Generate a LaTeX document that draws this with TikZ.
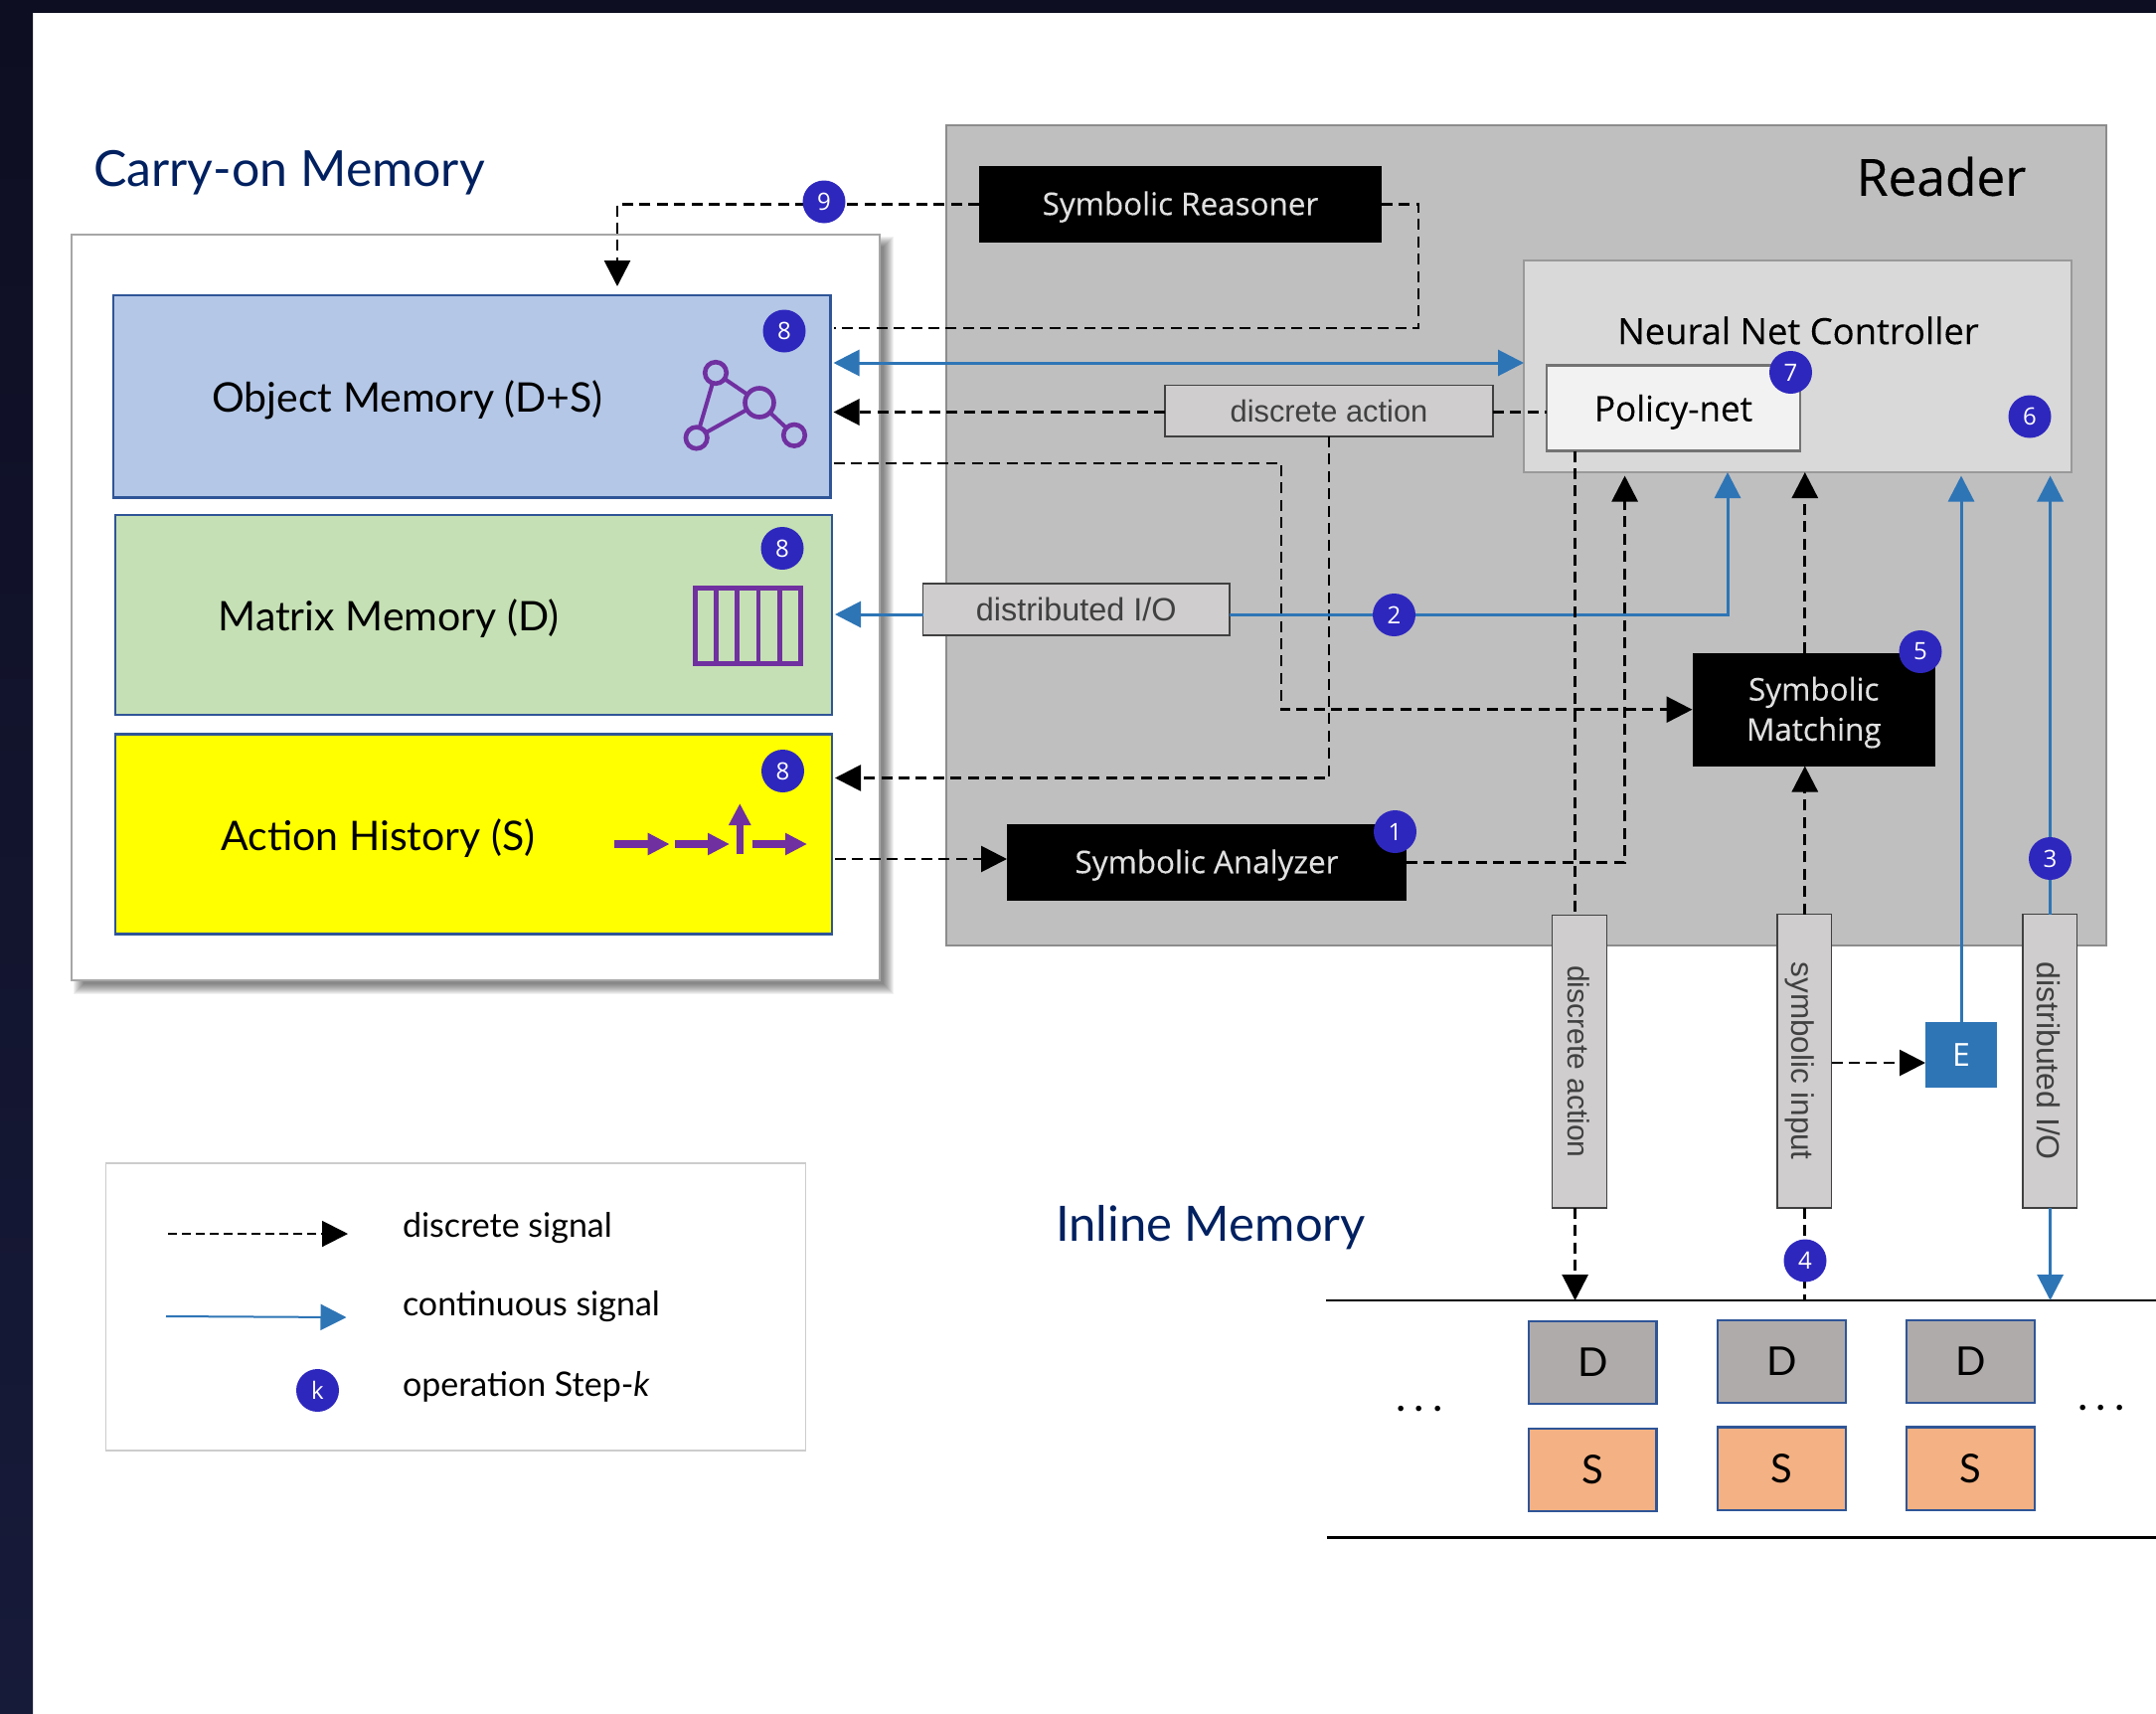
\documentclass[tikz,border=0pt]{standalone}
\usepackage{fontspec}
\usepackage{graphicx}
\usetikzlibrary{arrows.meta,calc}
\setmainfont{Lato}
\newfontfamily\opn{Open Sans}
\newfontfamily\opnm[FakeBold=0.25]{Open Sans}
\newfontfamily\lib{Liberation Sans}
\newcommand\fs[1]{\fontsize{#1}{#1}\selectfont}
\newcommand\dn[1]{\raisebox{-5.5pt}[0pt][0pt]{#1}}
\definecolor{bandA}{HTML}{0E0E22}
\definecolor{bandB}{HTML}{171B3A}
\definecolor{navy}{HTML}{002060}
\definecolor{edgeblue}{HTML}{2F5597}
\definecolor{sigblue}{HTML}{2E75B6}
\definecolor{badge}{HTML}{2E27BE}
\definecolor{purp}{HTML}{7030A0}
\definecolor{lblfill}{HTML}{CFCDCE}
\definecolor{objfill}{HTML}{B4C7E7}
\definecolor{matfill}{HTML}{C5E0B4}
\definecolor{actfill}{HTML}{FFFF00}
\definecolor{dfill}{HTML}{AFABAB}
\definecolor{sfill}{HTML}{F4B183}
\newcommand\bx[7]{%
  \pgfmathsetmacro\bxw{(#4)-(#2)}%
  \pgfmathsetmacro\bxh{(#5)-(#3)}%
  \pgfmathsetmacro\bxx{((#4)+(#2))/2}%
  \pgfmathsetmacro\bxy{((#5)+(#3))/2}%
  \node[#6,minimum width=\bxw*0.5pt,minimum height=\bxh*0.5pt] (#1) at (\bxx,\bxy) {#7};}
\tikzset{
  x=0.5pt,y=-0.5pt,
  every node/.style={inner sep=0pt,outer sep=0pt,align=center},
  membox/.style={draw=edgeblue,line width=1.2pt,outer sep=1.5pt},
  blackbox/.style={fill=black,text=white!88!black,font=\opnm\fs{15.7}},
  lblbox/.style={draw=black!75,fill=lblfill,line width=0.6pt,text=black!75,font=\lib\fs{15.5}},
  memlabel/.style={text=black,font=\fs{20.5}},
  headline/.style={text=navy,font=\fs{25}},
  stepbadge/.style={circle,fill=badge,text=white,minimum size=21.5pt,font=\opn\fs{12}},
  dsig/.style={draw=black,line width=1.4pt,dash pattern=on 5.5pt off 3.2pt,-{Triangle[length=13pt,width=13pt]}},
  dline/.style={draw=black,line width=1.4pt,dash pattern=on 5.5pt off 3.2pt},
  csig/.style={draw=sigblue,line width=1.5pt,-{Triangle[length=13pt,width=13pt]}},
  cell/.style={draw=edgeblue,line width=1.1pt,font=\fs{20},text=black},
  icon/.style={draw=purp,line width=2.3pt},
  iconarrow/.style={draw=purp,line width=3.7pt,-{Triangle[length=11pt,width=10.5pt]}},
  gap/.style={shorten >=1.75pt},
  legendtext/.style={font=\fs{17},anchor=west},
}
\begin{document}
\begin{tikzpicture}
\useasboundingbox (0,0) rectangle (2169,1724);
% window edge
\fill[bandA] (0,0) rectangle (2169,13);
\shade[top color=bandA,bottom color=bandB] (0,0) rectangle (33,1724);
% reader panel
\bx{reader}{952}{126}{2119}{951}{draw=black!45,fill=black!25,line width=0.6pt}{}
% carry-on panel with soft shadow
\foreach \d in {6,5,4,3,2,1,0,-1,-2,-3,-4}
  \fill[black,opacity=0.055] (80-\d,244-\d) rectangle (893+\d,994+\d);
\bx{carry}{72}{236}{885}{986}{draw=black!35,fill=white,line width=0.7pt}{}
\node[headline] (carrytitle) at (291,173.5) {Carry-on Memory};
\node[headline,font=\fs{24.5}] (inlinetitle) at (1218,1235) {Inline Memory};
% memory boxes
\bx{obj}{114}{297}{835.5}{500.5}{membox,fill=objfill}{}
\bx{mat}{116}{518}{837}{719}{membox,fill=matfill}{}
\bx{act}{116}{738.5}{837}{939.5}{membox,fill=actfill}{}
\node[memlabel] (objt) at (410,402.5) {Object Memory (D+S)};
\node[memlabel] (matt) at (391,622) {Matrix Memory (D)};
\node[memlabel] (actt) at (380.5,843.5) {Action History (S)};
% icons
\node[circle,icon,minimum size=10.8pt] (g1) at (720,375) {};
\node[circle,icon,minimum size=14.5pt] (g2) at (764,405) {};
\node[circle,icon,minimum size=10.8pt] (g3) at (700.7,440.4) {};
\node[circle,icon,minimum size=10.8pt] (g4) at (799,437.8) {};
\draw[icon,line width=2pt] (g1)--(g2) (g1)--(g3) (g2)--(g3) (g2)--(g4);
\bx{grid}{699.3}{591.6}{805.5}{667.4}{icon}{}
\foreach \gx in {720.7,741.7,763,784.3}
  \draw[icon] (grid.north -| \gx,0) -- (grid.south -| \gx,0);
\draw[iconarrow] (618,849) -- (673.7,849);
\draw[iconarrow] (679,849) -- (734,849);
\draw[iconarrow] (744.3,858.7) -- (744.3,808);
\draw[iconarrow] (756.7,849) -- (812,849);
% reader contents
\node[font=\opnm\fs{25.7},text=black] (readert) at (1953,177.5) {Reader};
\bx{reasoner}{985}{167}{1390}{243.5}{blackbox}{\dn{Symbolic Reasoner}}
\bx{nnc}{1533}{262}{2084}{475}{draw=black!40,fill=black!15,line width=0.6pt}{}
\node[font=\opnm\fs{18.2},text=black] (nnct) at (1809,332.5) {Neural Net Controller};
\bx{policy}{1556}{367.5}{1811}{453.5}{draw=black!55,fill=black!5,line width=1.3pt,font=\opnm\fs{17.5},text=black}{\raisebox{-6.5pt}[0pt][0pt]{Policy-net}}
\bx{discact}{1172}{387.5}{1502}{439}{lblbox,font=\lib\fs{15.4}}{\raisebox{-1pt}{discrete action}}
\bx{distio}{928.5}{587}{1237}{639}{lblbox,font=\lib\fs{16.2}}{\raisebox{-0.5pt}{distributed I/O}}
\bx{matching}{1702.5}{657}{1947}{770.5}{blackbox}{\dn{Symbolic}\\[4.5pt]\dn{Matching}}
\bx{analyzer}{1013}{829}{1415}{905.5}{blackbox}{\dn{Symbolic Analyzer}}
% vertical labels
\bx{vdisc}{1561.5}{920.5}{1616.5}{1215}{lblbox,font=\lib\fs{15}}{\rotatebox{-90}{discrete action}\kern1pt}
\bx{vsym}{1788}{919.5}{1842.5}{1215}{lblbox,font=\lib\fs{15.7}}{\rotatebox{-90}{symbolic input}\kern5pt}
\bx{vdist}{2035}{919.5}{2089.5}{1215}{lblbox,font=\lib\fs{16}}{\rotatebox{-90}{distributed I/O}\kern1pt}
\bx{ebox}{1937}{1028}{2009}{1094}{fill=sigblue,text=white,font=\opn\fs{16}}{E}
% inline memory
\coordinate (lineTopL) at (1334,1308);
\coordinate (lineTopR) at (2169,1308);
\coordinate (lineBotL) at (1335,1546.5);
\coordinate (lineBotR) at (2169,1546.5);
\draw[black,line width=1.3pt] (lineTopL) -- (lineTopR);
\draw[black,line width=1.3pt] (lineBotL) -- (lineBotR);
\bx{d1}{1538}{1329}{1666.5}{1412}{cell,fill=dfill}{D}
\bx{s1}{1538}{1437}{1666.5}{1520}{cell,fill=sfill}{S}
\bx{d2}{1728}{1328}{1857}{1411}{cell,fill=dfill}{D}
\bx{s2}{1728}{1435.5}{1857}{1519}{cell,fill=sfill}{S}
\bx{d3}{1918}{1328}{2047}{1411}{cell,fill=dfill}{D}
\bx{s3}{1918}{1435.5}{2047}{1519}{cell,fill=sfill}{S}
\node[font=\fs{22},anchor=base] (dotsl) at (1428,1419) {.\kern4pt.\kern4pt.};
\node[font=\fs{22},anchor=base] (dotsr) at (2114,1418) {.\kern4pt.\kern4pt.};
% connectors
\draw[dsig,shorten >=3pt] (reasoner.west) -| (obj.north -| 621,0);
\draw[dline] (reasoner.east) -| (1427,330) -- (obj.east |- 0,330);
\draw[csig,{Triangle[length=13pt,width=13pt]}-{Triangle[length=13pt,width=13pt]}] (obj.east |- 0,365) -- (nnc.west |- 0,365);
\draw[dsig,line width=1.5pt] (discact.west |- 0,414.5) -- (obj.east |- 0,414.5);
\draw[dline,line width=1.5pt] (discact.east |- 0,414.5) -- (policy.west |- 0,414.5);
\draw[dsig] (obj.east |- 0,466) -| (1289,713.7) -- (matching.west |- 0,713.7);
\draw[dsig] (discact.south) |- (act.east |- 0,782.5);
\draw[csig] (distio.west |- 0,618) -- (mat.east |- 0,618);
\draw[csig] (distio.east |- 0,618) -| (nnc.south -| 1738,0);
\draw[dsig] (act.east |- 0,864) -- (analyzer.west |- 0,864);
\draw[dsig,gap] (analyzer.east |- 0,867.5) -| (nnc.south -| 1634.6,0);
\draw[dline] (policy.south -| 1584.6,0) -- (vdisc.north -| 1584.6,0);
\draw[dsig] (vdisc.south -| 1584.6,0) -- (lineTopL -| 1584.6,0);
\draw[dsig] (matching.north -| 1815.8,0) -- (nnc.south -| 1815.8,0);
\draw[dsig] (vsym.north -| 1815.8,0) -- (matching.south -| 1815.8,0);
\draw[dline] (vsym.south -| 1815.8,0) -- (lineTopL -| 1815.8,0);
\draw[dsig] (vsym.east |- 0,1069) -- (ebox.west |- 0,1069);
\draw[csig,gap] (ebox.north -| 1973,0) -- (nnc.south -| 1973,0);
\draw[csig,gap] (vdist.north -| 2062.6,0) -- (nnc.south -| 2062.6,0);
\draw[csig] (vdist.south -| 2062.6,0) -- (lineTopL -| 2062.6,0);
% legend
\bx{legend}{106.5}{1170}{810.5}{1459}{draw=black!20,fill=white,line width=0.6pt}{}
\coordinate (lg1a) at (169,1241);
\coordinate (lg1b) at (350,1241);
\coordinate (lg2a) at (167,1324);
\coordinate (lg2b) at (348.5,1325);
\draw[dsig,line width=1pt,dash pattern=on 4.5pt off 2.5pt] (lg1a) -- (lg1b);
\draw[csig,line width=1pt] (lg2a) -- (lg2b);
\node[legendtext] (lt1) at (405,1235) {discrete signal};
\node[legendtext] (lt2) at (405,1314) {continuous signal};
\node[legendtext] (lt3) at (405,1395) {operation Step-\textit{k}};
% step badges
\node[stepbadge] (bk) at (319.5,1398.5) {k};
\node[stepbadge] (b1) at (1403.5,836.5) {1};
\node[stepbadge] (b2) at (1402.5,618.5) {2};
\node[stepbadge] (b3) at (2062.5,863.5) {3};
\node[stepbadge] (b4) at (1816,1268) {4};
\node[stepbadge] (b5) at (1932,655.5) {5};
\node[stepbadge] (b6) at (2042,419) {6};
\node[stepbadge] (b7) at (1801.5,374.5) {7};
\node[stepbadge] (b8a) at (789,333) {8};
\node[stepbadge] (b8b) at (787,551.5) {8};
\node[stepbadge] (b8c) at (787.5,775.5) {8};
\node[stepbadge] (b9) at (829,203) {9};
\end{tikzpicture}
\end{document}
